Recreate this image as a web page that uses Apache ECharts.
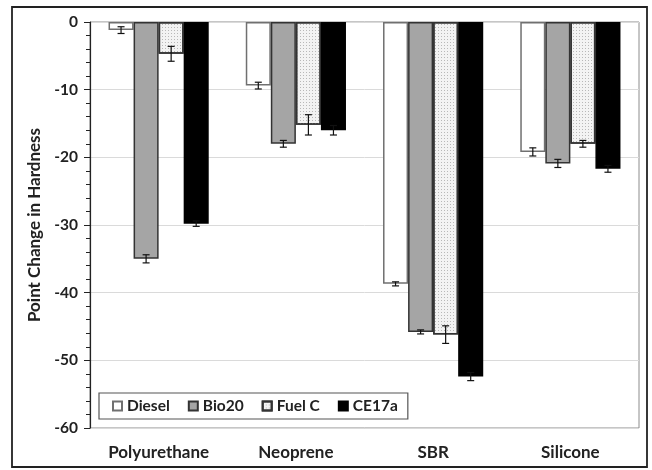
<!DOCTYPE html>
<html><head><meta charset="utf-8">
<script src="https://cdn.jsdelivr.net/npm/echarts@6/dist/echarts.min.js"></script>
<style>html,body{margin:0;padding:0;background:#fff}#c{width:652px;height:470px}</style>
</head><body><div id="c"></div>
<script>
const categories = ['Polyurethane', 'Neoprene', 'SBR', 'Silicone'];
const seriesNames = ['Diesel', 'Bio20', 'Fuel C', 'CE17a'];
const diesel = [-1.2, -9.4, -38.7, -19.2];
const bio20 = [-35.0, -18.0, -45.8, -20.9];
const fuelC = [-4.7, -15.2, -46.2, -18.0];
const ce17a = [-29.8, -16.0, -52.4, -21.7];
const dieselErr = [0.5, 0.5, 0.3, 0.6];
const bio20Err = [0.6, 0.5, 0.3, 0.6];
const fuelCErr = [1.1, 1.5, 1.3, 0.5];
const ce17aErr = [0.4, 0.7, 0.6, 0.5];
const yTicks = [0, -10, -20, -30, -40, -50, -60];

const values = [diesel, bio20, fuelC, ce17a];
const errs = [dieselErr, bio20Err, fuelCErr, ce17aErr];
const FONT = 'Lato';
const gapPct = 0.27;
const styles = [
  {color: '#ffffff', borderColor: '#707070', borderWidth: 1.5},
  {color: '#a5a5a5', borderColor: '#333333', borderWidth: 1.5},
  {color: '#f3f3f3', borderColor: '#333333', borderWidth: 1.5,
   decal: {symbol: 'rect', symbolSize: 1, dashArrayX: [1, 2], dashArrayY: [1, 2], color: '#b8b8b8', rotation: 0}},
  {color: '#000000', borderColor: '#000000', borderWidth: 1.5}
];

const series = [];
seriesNames.forEach((name, i) => {
  series.push({
    name: name, type: 'bar', data: values[i],
    barGap: '0%', barCategoryGap: (gapPct * 100) + '%',
    itemStyle: styles[i], emphasis: {disabled: true}
  });
});
seriesNames.forEach((name, i) => {
  series.push({
    type: 'custom', name: name + ' err', silent: true, z: 10,
    data: values[i].map((v, k) => [k, v, errs[i][k]]),
    encode: {x: 0, y: 1},
    renderItem: function (params, api) {
      const k = api.value(0), v = api.value(1), e = api.value(2);
      const band = api.size([1, 0])[0];
      const group = band * (1 - gapPct);
      const bw = group / 4;
      const c = api.coord([k, v]);
      const x = c[0] - group / 2 + bw * (i + 0.5);
      const yHi = api.coord([k, v + e])[1];
      const yLo = api.coord([k, v - e])[1];
      const cap = 3.5;
      const st = {stroke: '#111', lineWidth: 1.2};
      return {type: 'group', children: [
        {type: 'line', shape: {x1: x, y1: yHi, x2: x, y2: yLo}, style: st},
        {type: 'line', shape: {x1: x - cap, y1: yHi, x2: x + cap, y2: yHi}, style: st},
        {type: 'line', shape: {x1: x - cap, y1: yLo, x2: x + cap, y2: yLo}, style: st}
      ]};
    }
  });
});

const chart = echarts.init(document.getElementById('c'), null, {renderer: 'canvas'});
chart.setOption({
  animation: false,
  backgroundColor: '#fff',
  textStyle: {fontFamily: FONT},
  grid: {left: 90, right: 13, top: 22, bottom: 42, show: true, borderColor: '#8c8c8c', borderWidth: 1},
  legend: {
    data: seriesNames,
    left: 99, top: 393,
    orient: 'horizontal',
    icon: 'rect', itemWidth: 9, itemHeight: 9, itemGap: 18,
    padding: [5, 10, 5, 13],
    borderColor: '#555', borderWidth: 1.2, backgroundColor: '#fff',
    textStyle: {fontFamily: FONT, fontWeight: 'bold', fontSize: 15.5, color: '#222', padding: [0, 0, 0, 0]},
    z: 20
  },
  graphic: [{
    type: 'rect', shape: {x: 12, y: 7, width: 635, height: 460},
    style: {fill: 'none', stroke: '#222', lineWidth: 1.8}, silent: true
  }],
  xAxis: {
    type: 'category', data: categories, position: 'bottom',
    axisLine: {show: false}, axisTick: {show: false},
    axisLabel: {fontFamily: FONT, fontWeight: 'bold', fontSize: 17, color: '#222', margin: 16}
  },
  yAxis: {
    type: 'value', min: -60, max: 0, interval: 10,
    name: 'Point Change in Hardness', nameLocation: 'middle', nameGap: 46,
    nameTextStyle: {fontFamily: FONT, fontWeight: 'bold', fontSize: 17, color: '#222'},
    axisLine: {show: true, lineStyle: {color: '#222', width: 1.2}},
    axisTick: {show: true, length: 6, lineStyle: {color: '#222'}},
    minorTick: {show: true, splitNumber: 5, length: 4, lineStyle: {color: '#222'}},
    splitLine: {show: true, lineStyle: {color: '#dadada'}},
    axisLabel: {fontFamily: FONT, fontWeight: 'bold', fontSize: 15.5, color: '#222', margin: 12,
      formatter: v => (yTicks.indexOf(v) >= 0 ? String(v) : '')}
  },
  series: series
});
</script></body></html>
